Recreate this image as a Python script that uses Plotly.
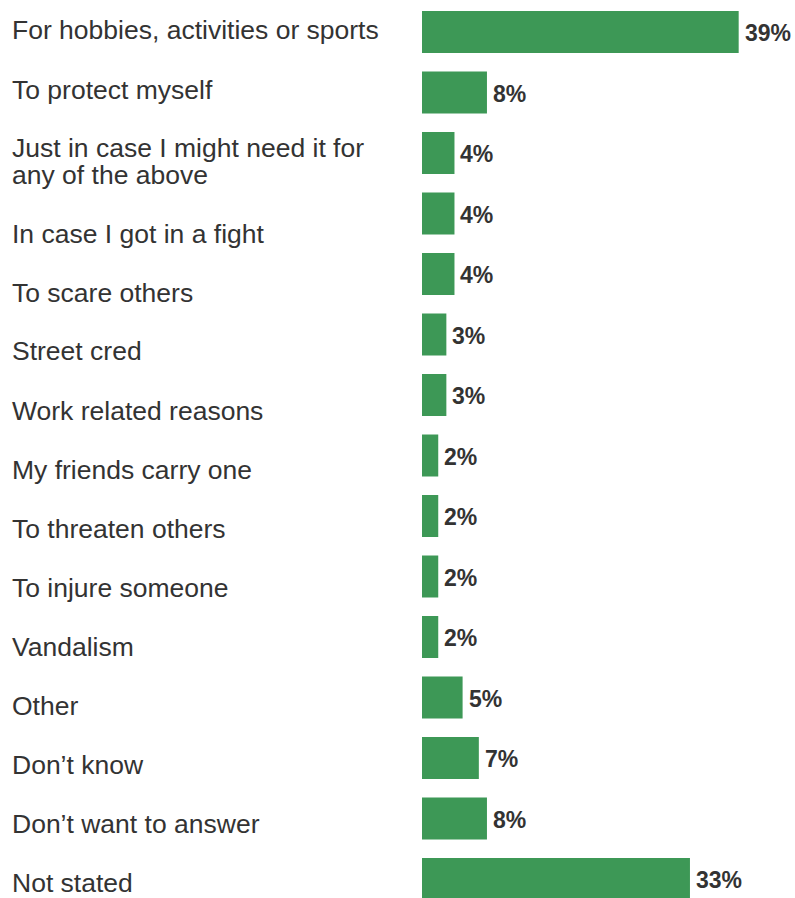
import plotly.graph_objects as go

# Reasons given, top to bottom, and the share of respondents (%)
reasons = [
    "For hobbies, activities or sports",
    "To protect myself",
    "Just in case I might need it for\nany of the above",
    "In case I got in a fight",
    "To scare others",
    "Street cred",
    "Work related reasons",
    "My friends carry one",
    "To threaten others",
    "To injure someone",
    "Vandalism",
    "Other",
    "Don\u2019t know",
    "Don\u2019t want to answer",
    "Not stated",
]
shares = [39, 8, 4, 4, 4, 3, 3, 2, 2, 2, 2, 5, 7, 8, 33]

BAR_COLOR = "#3d9856"
TEXT_COLOR = "#333333"
FONT = "Liberation Sans"

W, H = 795, 898
PLOT_LEFT = 422          # px where bars start
PX_PER_PCT = 8.12        # horizontal scale
ROW_PITCH = 60.5         # px between bar centres
FIRST_ROW_Y = 32         # px centre of first bar

# Category labels are laid out as a text column of their own
LABEL_X = 9.5            # px
LABEL_TOP = 30.5         # px centre of first label line
LABEL_PITCH = 59         # px from one label to the next
LINE_H = 26              # px between wrapped lines

rows = list(range(len(reasons)))

fig = go.Figure()
fig.add_bar(
    x=shares,
    y=rows,
    orientation="h",
    marker=dict(color=BAR_COLOR, line=dict(width=0)),
    hoverinfo="skip",
)

annotations = []
cursor = LABEL_TOP
for i, (label, val) in enumerate(zip(reasons, shares)):
    lines = label.split("\n")
    for j, line in enumerate(lines):
        py = cursor + j * LINE_H
        annotations.append(dict(
            x=LABEL_X / W, xref="paper", xanchor="left",
            y=1 - py / H, yref="paper", yanchor="middle",
            text=line, showarrow=False,
            font=dict(family=FONT, size=26.5, color=TEXT_COLOR),
        ))
    cursor += LABEL_PITCH + (len(lines) - 1) * LINE_H

    annotations.append(dict(
        x=val, xref="x", xanchor="left", xshift=4,
        y=i, yref="y", yanchor="middle", yshift=-1,
        text=f"<b>{val}%</b>", showarrow=False,
        font=dict(family=FONT, size=23, color=TEXT_COLOR),
    ))

y_top = -FIRST_ROW_Y / ROW_PITCH
y_bot = (H - FIRST_ROW_Y) / ROW_PITCH

fig.update_layout(
    width=W, height=H,
    margin=dict(l=0, r=0, t=0, b=0),
    paper_bgcolor="white", plot_bgcolor="white",
    showlegend=False,
    bargap=1 - 42 / ROW_PITCH,
    xaxis=dict(domain=[PLOT_LEFT / W, 1], range=[0, (W - PLOT_LEFT) / PX_PER_PCT],
               visible=False, fixedrange=True),
    yaxis=dict(range=[y_bot, y_top], visible=False, fixedrange=True),
    annotations=annotations,
)

fig.write_html("out.html")
